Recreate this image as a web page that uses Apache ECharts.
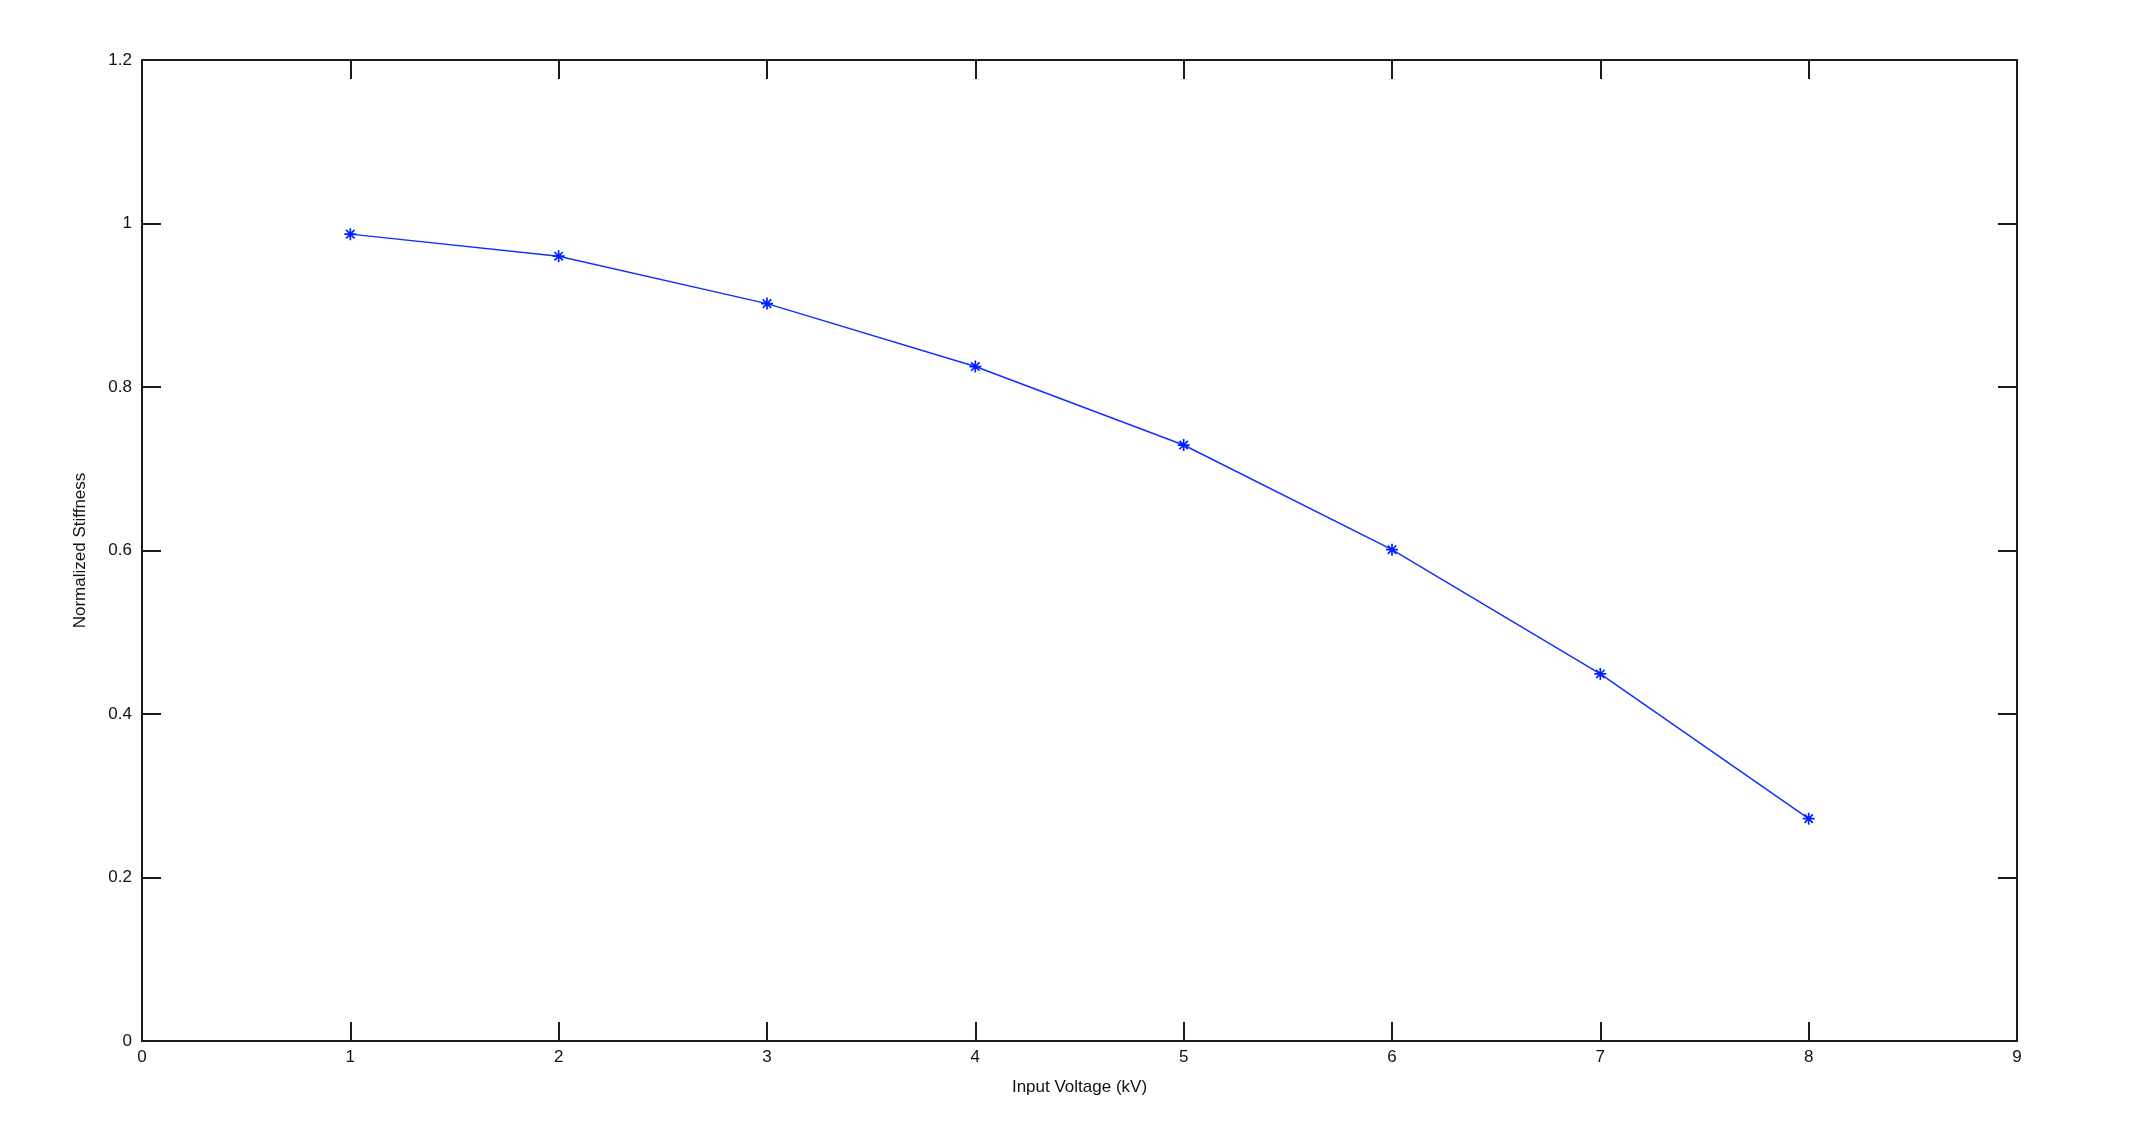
<!DOCTYPE html>
<html>
<head>
<meta charset="utf-8">
<script src="https://cdn.jsdelivr.net/npm/echarts@6/dist/echarts.min.js"></script>
<style>
html,body{margin:0;padding:0;background:#fff;}
#chart{width:2130px;height:1132px;}
</style>
</head>
<body>
<div id="chart"></div>
<script>
const voltage = [1, 2, 3, 4, 5, 6, 7, 8];
const stiffness = [0.987, 0.960, 0.902, 0.825, 0.729, 0.601, 0.449, 0.272];
const xTicks = {min: 0, max: 9, interval: 1};
const yTicks = {min: 0, max: 1.2, interval: 0.2};
const xLabel = 'Input Voltage (kV)';
const yLabel = 'Normalized Stiffness';

const asterisk = 'path://M0,4.3L10,4.3L10,5.7L0,5.7Z M4.3,0L5.7,0L5.7,10L4.3,10Z M1,2L2,1L9,8L8,9Z M8,1L9,2L2,9L1,8Z';
const font = 'Liberation Sans, Arial, sans-serif';
const axisLine = {show: true, onZero: false, lineStyle: {color: '#1a1a1a', width: 2}};
const axisTick = {show: true, inside: true, length: 19, lineStyle: {color: '#1a1a1a', width: 2}};

const chart = echarts.init(document.getElementById('chart'), null, {renderer: 'canvas'});
chart.setOption({
  animation: false,
  backgroundColor: '#ffffff',
  grid: {left: 142, right: 113, top: 60, bottom: 91, containLabel: false},
  xAxis: [
    {
      type: 'value', position: 'bottom', min: xTicks.min, max: xTicks.max, interval: xTicks.interval,
      axisLine: axisLine, axisTick: axisTick, splitLine: {show: false},
      axisLabel: {color: '#111', fontFamily: font, fontSize: 17, margin: 8},
      name: xLabel, nameLocation: 'middle', nameGap: 38,
      nameTextStyle: {color: '#111', fontFamily: font, fontSize: 17}
    },
    {
      type: 'value', position: 'top', min: xTicks.min, max: xTicks.max, interval: xTicks.interval,
      axisLine: axisLine, axisTick: axisTick, splitLine: {show: false}, axisLabel: {show: false}
    }
  ],
  yAxis: [
    {
      type: 'value', position: 'left', min: yTicks.min, max: yTicks.max, interval: yTicks.interval,
      axisLine: axisLine, axisTick: axisTick, splitLine: {show: false},
      axisLabel: {color: '#111', fontFamily: font, fontSize: 17, margin: 10},
      name: yLabel, nameLocation: 'middle', nameGap: 53, nameRotate: 90,
      nameTextStyle: {color: '#111', fontFamily: font, fontSize: 17}
    },
    {
      type: 'value', position: 'right', min: yTicks.min, max: yTicks.max, interval: yTicks.interval,
      axisLine: axisLine, axisTick: axisTick, splitLine: {show: false}, axisLabel: {show: false}
    }
  ],
  series: [{
    type: 'line',
    data: voltage.map((v, i) => [v, stiffness[i]]),
    xAxisIndex: 0, yAxisIndex: 0,
    symbol: asterisk, symbolSize: 12, showAllSymbol: true,
    lineStyle: {color: '#1030ff', width: 1.5},
    itemStyle: {color: '#0020ff'},
    emphasis: {disabled: true}
  }]
});
</script>
</body>
</html>
